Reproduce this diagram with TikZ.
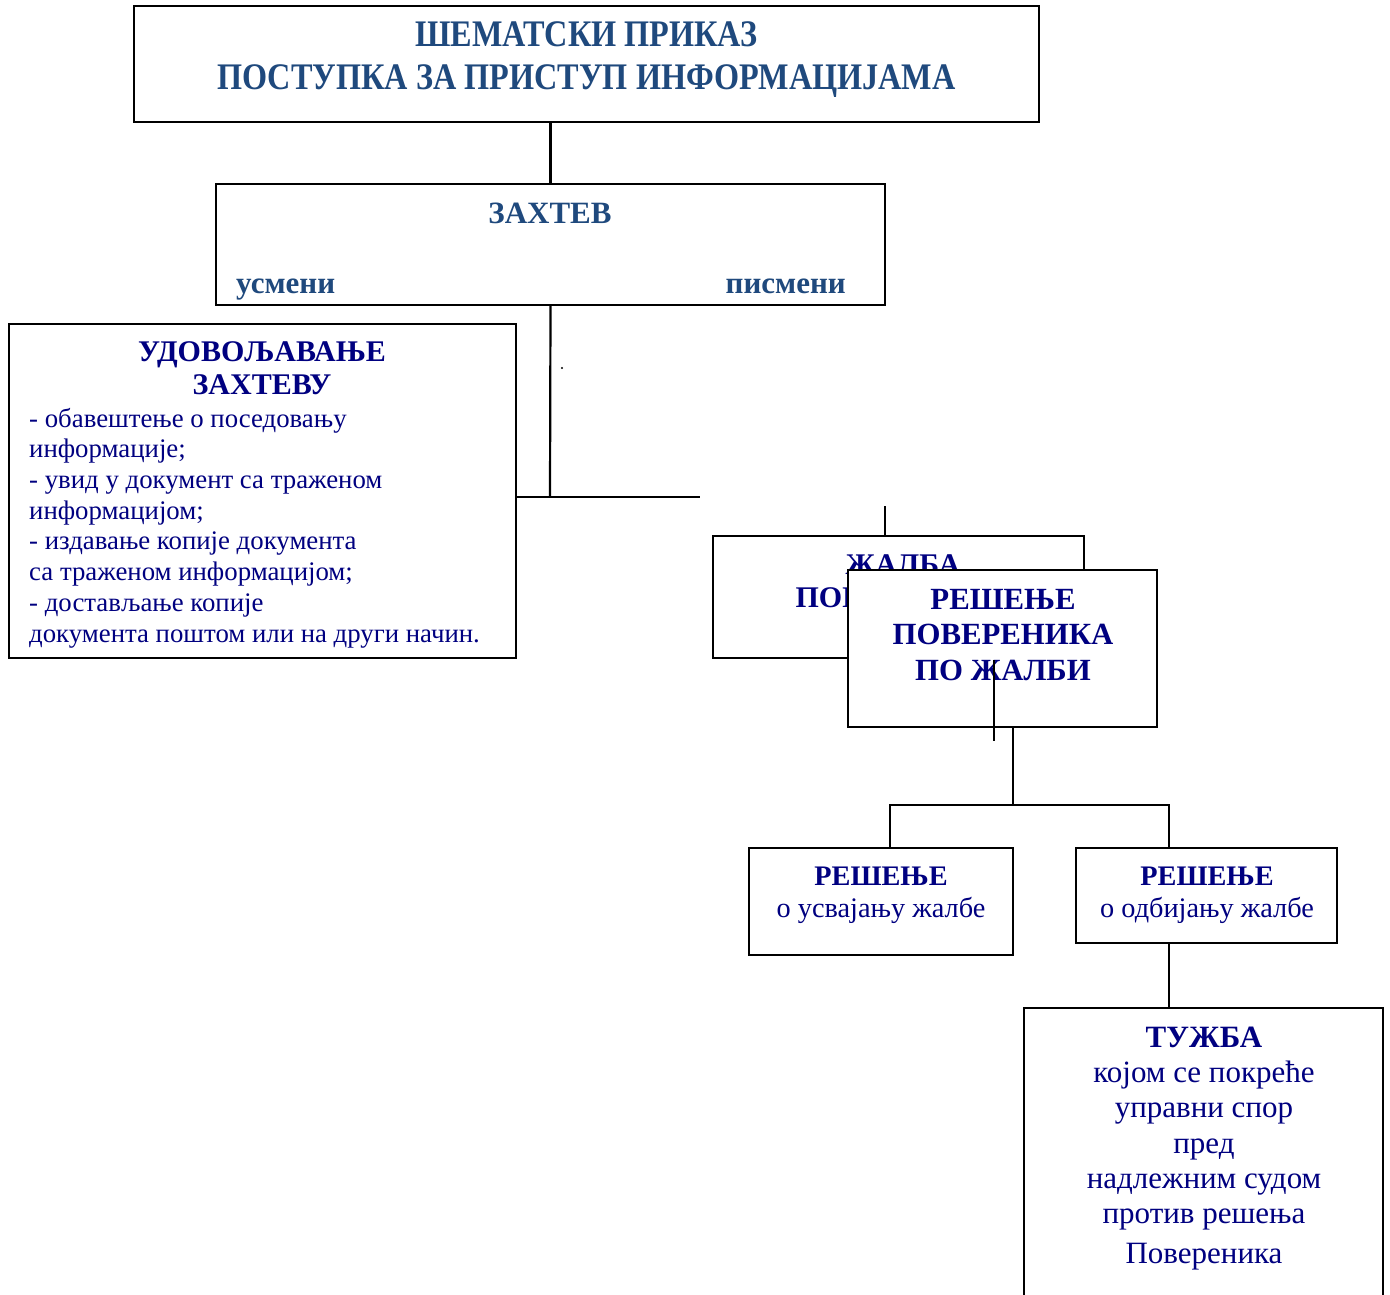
\documentclass[tikz,border=0pt]{standalone}
\usepackage{fontspec}
\setmainfont{Liberation Serif}
\newfontfamily\condfont[FakeStretch=0.86]{Liberation Serif}
\usepackage{tikz}
\usetikzlibrary{positioning}
\usepackage{xcolor}
\definecolor{zpblue}{RGB}{31,73,125}
\definecolor{zpnavy}{RGB}{0,0,128}

\begin{document}
\begin{tikzpicture}[
    x=1pt, y=-1pt,
    box/.style={rectangle, draw=black, line width=2.2pt, fill=white, inner sep=0pt},
    link/.style={black, line width=2.2pt},
    head/.style={font=\bfseries\fontsize{30}{33}\selectfont, text=zpnavy, align=center, inner sep=0pt},
    plain/.style={font=\fontsize{26.8}{30.7}\selectfont, text=zpnavy, inner sep=0pt},
    small/.style={font=\fontsize{28.3}{32}\selectfont, text=zpnavy, align=center, inner sep=0pt},
    big/.style={font=\fontsize{31}{35.3}\selectfont, text=zpnavy, align=center, inner sep=0pt},
    kind/.style={inner sep=0pt, text=zpblue, font=\bfseries\fontsize{31}{36}\selectfont}
]
\useasboundingbox (0,0) rectangle (1390,1295);

% Title
\node (title) [box, minimum width=905pt, minimum height=116pt] at (586.5,64) {};
\node (titletxt) [anchor=base, align=center, inner sep=0pt, text=zpblue,
    font=\condfont\bfseries\fontsize{37.5}{43}\selectfont] at (586.5,90)
    {ШЕМАТСКИ ПРИКАЗ\\ПОСТУПКА ЗА ПРИСТУП ИНФОРМАЦИЈАМА};

% Request
\node (zahtev) [box, minimum width=669pt, minimum height=121pt] at (550.5,244.5) {};
\node (zahtevtxt) [kind, anchor=base] at (550,223) {ЗАХТЕВ};
\node (usmeni) [kind, anchor=base west] at (236,293) {усмени};
\node (pismeni) [kind, anchor=base east] at (846,293) {писмени};

% Granted request
\node (udov) [box, minimum width=507pt, minimum height=334pt] at (262.5,491) {};
\node (udovhead) [head, anchor=base] at (262,394) {УДОВОЉАВАЊЕ\\ЗАХТЕВУ};
\node (udovtxt) [plain, anchor=base west, align=left] at (29,642)
    {- обавештење о поседовању\\
     информације;\\
     - увид у документ са траженом\\
     информацијом;\\
     - издавање копије документа\\
     са траженом информацијом;\\
     - достављање копије\\
     документа поштом или на други начин.};

% Appeal and decision
\node (zalba) [box, minimum width=371pt, minimum height=122pt] at (898.5,597) {};
\node (zalbatxt) [head, anchor=base] at (903,607) {ЖАЛБА\\ПОВЕРЕНИКУ};
\node (resenje) [box, minimum width=309pt, minimum height=157pt] at (1002.5,648.5) {};
\node (resenjetxt) [head, anchor=base, font=\bfseries\fontsize{30.8}{35.5}\selectfont] at (1003,680)
    {РЕШЕЊЕ\\ПОВЕРЕНИКА\\ПО ЖАЛБИ};

% Outcomes
\node (usv) [box, minimum width=264pt, minimum height=107pt] at (881,901.5) {};
\node (usvtxt) [small, anchor=base] at (881,917)
    {{\bfseries РЕШЕЊЕ}\\о усвајању жалбе};
\node (odb) [box, minimum width=261pt, minimum height=95pt] at (1206.5,895.5) {};
\node (odbtxt) [small, anchor=base] at (1207,917)
    {{\bfseries РЕШЕЊЕ}\\о одбијању жалбе};

% Lawsuit
\node (tuzba) [box, minimum width=359pt, minimum height=304pt] at (1203.5,1160) {};
\node (tuzbatxt) [big, anchor=base] at (1204,1263)
    {{\bfseries ТУЖБА}\\којом се покреће\\управни спор\\пред\\надлежним судом\\против решења\\[4pt]Повереника};

% Connections
\coordinate (fork) at (550,497);
\coordinate (forkend) at (700,497);
\coordinate (zalbatop) at (885,506);
\coordinate (stubtop) at (994,660);
\coordinate (stubbot) at (994,741);
\coordinate (split) at (1013,805);
\coordinate (splitl) at (890,805);
\coordinate (splitr) at (1169,805);

\draw[link] (zahtev.north |- title.south) -- (zahtev.north);
\draw[link] (zahtev.south) -- (fork);
\draw[link] (udov.east |- fork) -- (forkend);
\draw[link] (zalbatop) -- (zalbatop |- zalba.north);
\draw[link, line width=1.6pt] (stubtop) -- (stubbot);
\draw[link] (split |- resenje.south) -- (split);
\draw[link] (splitl |- usv.north) -- (splitl) -- (splitr) -- (splitr |- odb.north);
\draw[link] (splitr |- odb.south) -- (splitr |- tuzba.north);
\fill (562,368) circle (1.2pt);
\end{tikzpicture}
\end{document}
